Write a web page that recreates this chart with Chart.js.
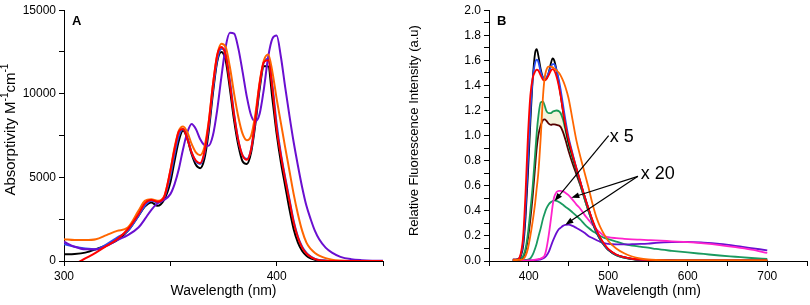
<!DOCTYPE html>
<html>
<head>
<meta charset="utf-8">
<script src="https://cdn.jsdelivr.net/npm/chart.js@4.4.0/dist/chart.umd.min.js"></script>
<style>
  body { margin: 0; background: #fff; }
  #wrap { position: relative; width: 810px; height: 305px; }
  canvas { position: absolute; top: 0; }
</style>
</head>
<body>
<div id="wrap">
  <canvas id="absChart" width="405" height="305" style="left:0"></canvas>
  <canvas id="fluoChart" width="405" height="305" style="left:405px"></canvas>
</div>
<script>
// ---- panel A: absorption (wavelength nm -> absorptivity) ----
const absWl = [300, 305, 310, 315, 320, 325, 330, 335, 338, 341, 344, 347,
  350, 352, 354, 356, 358, 360, 362, 364, 366, 368, 370, 372, 374, 376, 378, 380,
  382, 384, 386, 388, 390, 392, 394, 396, 398, 400, 402, 404, 406, 408, 410, 412,
  414, 416, 418, 420, 423, 426, 430, 435, 440, 445, 450];
const absBlack = [400, 420, 500, 700, 950, 1250, 1800, 2700, 3250, 3500, 3300, 3650,
  4700, 6000, 7200, 7800, 7300, 6400, 5750, 5550, 6100, 7700, 10000, 11900, 12500, 12000, 10300, 8400,
  6900, 5950, 5800, 6500, 8200, 10300, 11650, 11650, 9700, 7600, 5900, 4500, 3100, 1900, 1100, 600,
  320, 160, 70, 30, 10, 0, 0, 0, 0, 0, 0];
const absBlue = [1000, 850, 750, 700, 1000, 1400, 1800, 2700, 3300, 3600, 3500, 3750,
  5100, 6400, 7500, 7900, 7400, 6500, 5950, 5800, 6400, 8000, 10200, 12000, 12700, 12400, 10800, 8800,
  7200, 6300, 6100, 6700, 8400, 10500, 11900, 12100, 10500, 8200, 6400, 5000, 3700, 2400, 1450, 850,
  480, 260, 130, 60, 20, 5, 0, 0, 0, 0, 0];
const absRed = [-600, -200, 150, 500, 900, 1300, 1900, 2800, 3450, 3650, 3550, 3800,
  5400, 6700, 7750, 7900, 7300, 6500, 6000, 5850, 6500, 8200, 10500, 12300, 12800, 12300, 10600, 8700,
  7200, 6300, 6050, 6700, 8500, 10600, 11900, 12000, 10300, 7900, 6300, 4900, 3600, 2300, 1400, 800,
  450, 250, 120, 50, 15, 0, 0, 0, 0, 0, 0];
const absOrange = [1300, 1250, 1250, 1300, 1550, 1800, 2000, 3000, 3600, 3700, 3600, 3850,
  5400, 6800, 7800, 8050, 7700, 7000, 6500, 6330, 6800, 8300, 10500, 12300, 13000, 12800, 11600, 10000,
  8600, 7600, 7220, 7500, 8800, 10700, 12000, 12350, 11300, 9700, 8250, 6800, 5400, 4000, 2800, 1800,
  1100, 720, 480, 320, 170, 80, 30, 5, 0, 0, 0];
const absPurple = [1150, 850, 700, 700, 900, 1250, 1550, 2000, 2500, 3050, 3450, 3650,
  4000, 4600, 5500, 6700, 7700, 8200, 7900, 7300, 6950, 6900, 7500, 9000, 11000, 12800, 13650, 13600,
  12700, 11300, 9800, 8700, 8350, 8800, 10300, 12200, 13300, 13480, 12200, 10400, 8700, 7100, 5700, 4400,
  3300, 2500, 1800, 1300, 800, 500, 250, 110, 50, 20, 10];

// ---- panel B: fluorescence ----
const fluoWl = [380, 385, 390, 393, 396, 399, 402, 405, 408,
  410, 412, 415, 418, 420, 422, 425, 428, 430, 432, 435, 438, 440, 443, 446,
  450, 455, 460, 465, 470, 475, 480, 485, 490, 495, 500,
  510, 520, 530, 540, 550, 560,
  580, 600, 620, 640, 660, 680, 700];
const fluoBlack = [0.01, 0.01, 0.04, 0.12, 0.35, 0.7, 1.1, 1.45, 1.66,
  1.69, 1.64, 1.53, 1.46, 1.445, 1.45, 1.5, 1.58, 1.615, 1.6, 1.52, 1.41, 1.33, 1.2, 1.08,
  0.95, 0.84, 0.73, 0.625, 0.52, 0.42, 0.32, 0.24, 0.18, 0.13, 0.09,
  0.05, 0.03, 0.017, 0.01, 0.007, 0.005,
  0.004, 0.003, 0.003, 0.003, 0.003, 0.003, 0.003];
const fluoBlue = [0.01, 0.01, 0.05, 0.15, 0.42, 0.8, 1.18, 1.45, 1.58,
  1.605, 1.59, 1.51, 1.46, 1.45, 1.46, 1.5, 1.55, 1.57, 1.57, 1.52, 1.44, 1.37, 1.25, 1.13,
  0.99, 0.86, 0.74, 0.63, 0.52, 0.42, 0.32, 0.24, 0.18, 0.13, 0.092,
  0.05, 0.03, 0.017, 0.01, 0.007, 0.005,
  0.004, 0.003, 0.003, 0.003, 0.003, 0.003, 0.003];
const fluoRed = [0.01, 0.01, 0.06, 0.2, 0.55, 1.0, 1.32, 1.46, 1.51,
  1.525, 1.52, 1.48, 1.445, 1.44, 1.45, 1.48, 1.52, 1.53, 1.52, 1.47, 1.39, 1.32, 1.2, 1.09,
  0.97, 0.85, 0.74, 0.63, 0.52, 0.42, 0.33, 0.25, 0.185, 0.135, 0.097,
  0.052, 0.03, 0.018, 0.011, 0.008, 0.006,
  0.005, 0.004, 0.004, 0.004, 0.004, 0.004, 0.004];
const fluoOrange = [0.005, 0.008, 0.01, 0.015, 0.04, 0.1, 0.2, 0.32, 0.46,
  0.58, 0.7, 0.98, 1.32, 1.46, 1.52, 1.55, 1.55, 1.545, 1.535, 1.52, 1.5, 1.48, 1.44, 1.39,
  1.3, 1.13, 0.96, 0.83, 0.71, 0.59, 0.46, 0.35, 0.27, 0.21, 0.16,
  0.1, 0.062, 0.036, 0.02, 0.012, 0.008,
  0.005, 0.004, 0.004, 0.004, 0.004, 0.004, 0.004];
const fluoGreen = [0.005, 0.01, 0.02, 0.04, 0.1, 0.22, 0.4, 0.6, 0.85,
  1.02, 1.15, 1.265, 1.27, 1.24, 1.2, 1.18, 1.18, 1.19, 1.195, 1.2, 1.195, 1.18, 1.13, 1.05,
  0.93, 0.82, 0.72, 0.61, 0.5, 0.4, 0.31, 0.23, 0.17, 0.125, 0.09,
  0.047, 0.026, 0.015, 0.009, 0.006, 0.004,
  0.003, 0.003, 0.003, 0.003, 0.003, 0.003, 0.003];
const fluoBrown = [0.005, 0.01, 0.015, 0.03, 0.08, 0.18, 0.33, 0.52, 0.75,
  0.9, 1.0, 1.08, 1.125, 1.13, 1.12, 1.095, 1.085, 1.09, 1.09, 1.085, 1.08, 1.07, 1.03, 0.97,
  0.88, 0.78, 0.69, 0.6, 0.5, 0.4, 0.31, 0.23, 0.17, 0.125, 0.09,
  0.047, 0.026, 0.015, 0.009, 0.006, 0.004,
  0.003, 0.003, 0.003, 0.003, 0.003, 0.003, 0.003];
const fluoMagenta = [0, 0, 0.001, 0.002, 0.003, 0.004, 0.005, 0.007, 0.01,
  0.012, 0.015, 0.02, 0.03, 0.045, 0.09, 0.2, 0.34, 0.44, 0.51, 0.55, 0.56, 0.56, 0.555, 0.545,
  0.525, 0.49, 0.45, 0.415, 0.37, 0.33, 0.29, 0.255, 0.225, 0.2, 0.19,
  0.182, 0.177, 0.173, 0.17, 0.167, 0.164,
  0.157, 0.15, 0.14, 0.127, 0.11, 0.09, 0.065];
const fluoGreenX5 = [0.003, 0.004, 0.005, 0.006, 0.008, 0.012, 0.02, 0.05, 0.1,
  0.14, 0.19, 0.26, 0.34, 0.38, 0.415, 0.45, 0.47, 0.478, 0.484, 0.48, 0.47, 0.462, 0.448, 0.433,
  0.415, 0.388, 0.36, 0.33, 0.295, 0.265, 0.24, 0.22, 0.2, 0.185, 0.175,
  0.155, 0.135, 0.122, 0.114, 0.107, 0.096,
  0.081, 0.068, 0.056, 0.044, 0.034, 0.024, 0.016];
const fluoPurple = [0, 0, 0, 0.001, 0.002, 0.003, 0.004, 0.005, 0.006,
  0.008, 0.01, 0.013, 0.02, 0.028, 0.04, 0.07, 0.12, 0.155, 0.185, 0.225, 0.255, 0.265, 0.28, 0.288,
  0.29, 0.28, 0.263, 0.245, 0.225, 0.2, 0.183, 0.167, 0.152, 0.142, 0.136,
  0.132, 0.132, 0.134, 0.136, 0.139, 0.144,
  0.15, 0.152, 0.146, 0.136, 0.121, 0.103, 0.085];

// scale factor notes, in data units (nm, intensity)
const noteX5 = { text: 'x 5', x: 502, y: 0.99 };
const noteX20 = { text: 'x 20', x: 541, y: 0.69 };
const noteArrows = [
  [500.5, 1.0, 432.5, 0.478],
  [537.3, 0.675, 453.5, 0.505],
  [537.3, 0.675, 446, 0.29]
];

const FONT = '"Liberation Sans", Arial, sans-serif';
Chart.defaults.font.family = FONT;
Chart.defaults.color = '#000';

function series(xs, ys, color, width) {
    return {
        data: xs.map((x, i) => ({ x: x, y: ys[i] })),
        borderColor: color,
        borderWidth: width,
        pointRadius: 0,
        fill: false,
        cubicInterpolationMode: 'monotone'
    };
}

function axis(min, max, step, showLabel, extra) {
    return Object.assign({
        type: 'linear',
        min: min,
        max: max,
        ticks: {
            stepSize: step,
            autoSkip: false,
            maxRotation: 0,
            padding: 3,
            font: { size: 12 },
            callback: v => showLabel(v)
        },
        grid: { drawOnChartArea: false, tickLength: 5, tickColor: '#000' },
        border: { color: '#000', width: 1 }
    }, extra);
}

// rotated y title with superscript parts
function drawYTitle(ctx, cx, cy, parts, size) {
    const big = size + 'px ' + FONT;
    const small = Math.round(size * 0.65) + 'px ' + FONT;
    ctx.save();
    ctx.translate(cx, cy);
    ctx.rotate(-Math.PI / 2);
    ctx.fillStyle = '#000';
    ctx.textBaseline = 'middle';
    const widths = parts.map(p => { ctx.font = p[1] ? small : big; return ctx.measureText(p[0]).width; });
    let x = -widths.reduce((a, b) => a + b, 0) / 2;
    parts.forEach((p, i) => {
        ctx.font = p[1] ? small : big;
        ctx.fillText(p[0], x, p[1] ? -size * 0.38 : 0);
        x += widths[i];
    });
    ctx.restore();
}

function drawPanelLetter(chart, letter) {
    const ctx = chart.ctx, a = chart.chartArea;
    ctx.save();
    ctx.font = 'bold 13px ' + FONT;
    ctx.fillStyle = '#000';
    ctx.textBaseline = 'middle';
    ctx.fillText(letter, a.left + 8, a.top + 11);
    ctx.restore();
}

function drawArrow(ctx, x0, y0, x1, y1) {
    const ang = Math.atan2(y1 - y0, x1 - x0);
    const len = 8, half = 3;
    ctx.beginPath();
    ctx.moveTo(x0, y0);
    ctx.lineTo(x1 - Math.cos(ang) * len * 0.8, y1 - Math.sin(ang) * len * 0.8);
    ctx.stroke();
    ctx.beginPath();
    ctx.moveTo(x1, y1);
    ctx.lineTo(x1 - Math.cos(ang) * len + Math.sin(ang) * half, y1 - Math.sin(ang) * len - Math.cos(ang) * half);
    ctx.lineTo(x1 - Math.cos(ang) * len - Math.sin(ang) * half, y1 - Math.sin(ang) * len + Math.cos(ang) * half);
    ctx.closePath();
    ctx.fill();
}

const absDecor = {
    id: 'absDecor',
    afterDraw(chart) {
        const a = chart.chartArea;
        drawPanelLetter(chart, 'A');
        drawYTitle(chart.ctx, 11, (a.top + a.bottom) / 2 - 6,
            [['Absorptivity M', false], ['-1', true], ['cm', false], ['-1', true]], 15);
    }
};

const fluoDecor = {
    id: 'fluoDecor',
    afterDraw(chart) {
        const ctx = chart.ctx, a = chart.chartArea;
        const xs = chart.scales.x, ys = chart.scales.y;
        drawPanelLetter(chart, 'B');
        drawYTitle(ctx, 9, (a.top + a.bottom) / 2 - 5,
            [['Relative Fluorescence Intensity (a.u)', false]], 13);

        ctx.save();
        ctx.strokeStyle = '#000';
        ctx.fillStyle = '#000';
        ctx.lineWidth = 1.2;
        noteArrows.forEach(n => {
            drawArrow(ctx, xs.getPixelForValue(n[0]), ys.getPixelForValue(n[1]),
                xs.getPixelForValue(n[2]), ys.getPixelForValue(n[3]));
        });
        ctx.font = '18px ' + FONT;
        ctx.textBaseline = 'middle';
        [noteX5, noteX20].forEach(n => {
            ctx.fillText(n.text, xs.getPixelForValue(n.x), ys.getPixelForValue(n.y));
        });
        ctx.restore();
    }
};

window.onload = function () {
    const absCtx = document.getElementById('absChart').getContext('2d');
    const fluoCtx = document.getElementById('fluoChart').getContext('2d');

    new Chart(absCtx, {
        type: 'line',
        data: {
            datasets: [
                series(absWl, absRed, '#ff0000', 2),
                series(absWl, absOrange, '#ff6600', 2),
                series(absWl, absPurple, '#6a0fd0', 2),
                series(absWl, absBlue, '#2a4cf0', 2),
                series(absWl, absBlack, '#000000', 2)
            ]
        },
        options: {
            responsive: false,
            animation: false,
            layout: { padding: { top: 6, right: 22 } },
            plugins: { legend: { display: false }, tooltip: { enabled: false } },
            scales: {
                x: axis(300, 450, 50, v => (v % 100 === 0 ? String(v) : ''), {
                    title: { display: true, text: 'Wavelength (nm)', font: { size: 14 }, padding: { top: 2, bottom: 5 } },
                    afterFit: s => { s.height = 44; }
                }),
                y: axis(0, 15000, 2500, v => (v % 5000 === 0 ? String(v) : ''), {
                    afterFit: s => { s.width = 64; }
                })
            }
        },
        plugins: [absDecor]
    });

    // the pale band between the two middle curves is filled from the brown one up to the green one
    new Chart(fluoCtx, {
        type: 'line',
        data: {
            datasets: [
                series(fluoWl, fluoOrange, '#ff6600', 1.8),
                series(fluoWl, fluoRed, '#ff0000', 1.8),
                series(fluoWl, fluoBlue, '#2a4cf0', 1.8),
                series(fluoWl, fluoBlack, '#000000', 1.8),
                series(fluoWl, fluoGreen, '#1a9a55', 1.8),
                Object.assign(series(fluoWl, fluoBrown, '#550000', 1.8),
                    { fill: { target: 4 }, backgroundColor: '#f3f3dc' }),
                series(fluoWl, fluoMagenta, '#ff22cc', 1.8),
                series(fluoWl, fluoPurple, '#6a0fd0', 1.8),
                series(fluoWl, fluoGreenX5, '#1a9a60', 1.8)
            ]
        },
        options: {
            responsive: false,
            animation: false,
            layout: { padding: { top: 6, right: 2 } },
            plugins: { legend: { display: false }, tooltip: { enabled: false } },
            scales: {
                x: axis(350, 750, 50, v => (v % 100 === 0 && v > 350 && v < 750 ? String(v) : ''), {
                    title: { display: true, text: 'Wavelength (nm)', font: { size: 14 }, padding: { top: 2, bottom: 5 } },
                    afterFit: s => { s.height = 44; }
                }),
                y: axis(0, 2, 0.1, v => (Math.round(v * 10) % 2 === 0 ? v.toFixed(1) : ''), {
                    afterFit: s => { s.width = 84; }
                })
            }
        },
        plugins: [fluoDecor]
    });
};
</script>
</body>
</html>
